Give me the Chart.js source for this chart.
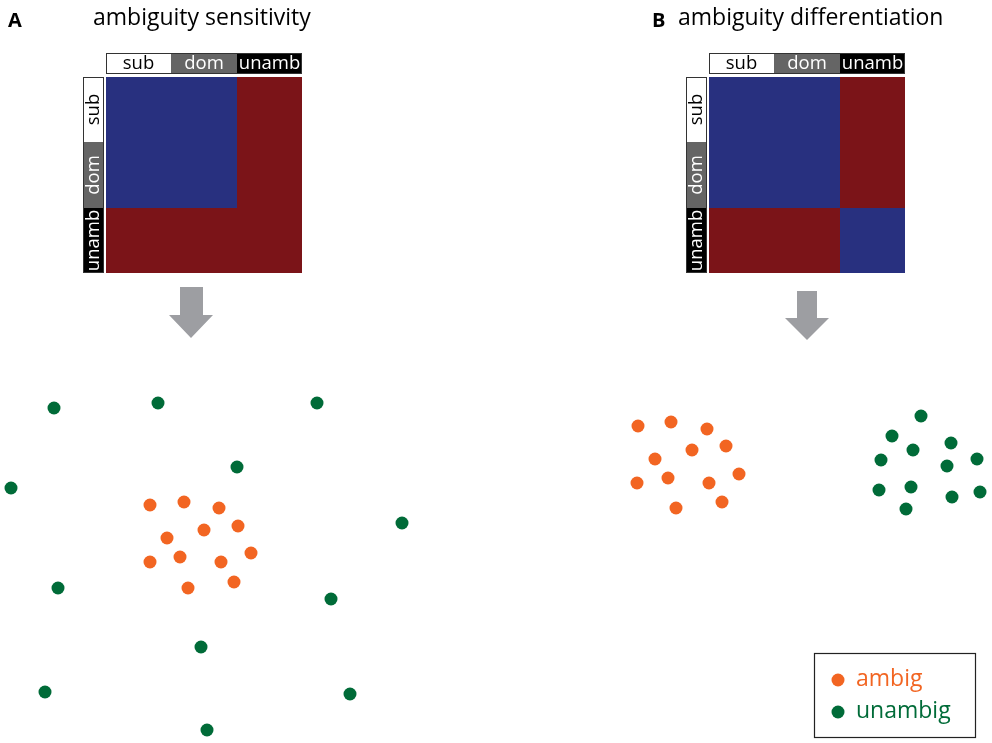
<!DOCTYPE html>
<html>
<head>
<meta charset="utf-8">
<script src="https://cdn.jsdelivr.net/npm/chart.js@4"></script>
<style>
html,body{margin:0;padding:0;background:#fff;}
#wrap{width:992px;height:743px;}
</style>
</head>
<body>
<div id="wrap"><canvas id="c" width="992" height="743"></canvas></div>
<script>
// ---- data ----
const categories = ['sub', 'dom', 'unamb'];
const panelTitles = ['ambiguity sensitivity', 'ambiguity differentiation'];
const panelLetters = ['A', 'B'];
// similarity matrices: 1 = similar (blue), 0 = dissimilar (red)
const matrixA = [[1,1,0],[1,1,0],[0,0,0]];
const matrixB = [[1,1,0],[1,1,0],[0,0,1]];
const seriesNames = ['ambig', 'unambig'];

// scatter points (plot units)
const aAmbigX = [150,184,219,238,204,167,251,180,150,221,234,188];
const aAmbigY = [505,502,508,526,530,538,553,557,562,562,582,588];
const aUnambX = [54,158,317,237,11,402,58,331,201,45,350,207];
const aUnambY = [408,403,403,467,488,523,588,599,647,692,694,730];
const bAmbigX = [638,671,707,726,692,655,739,668,637,709,722,676];
const bAmbigY = [426,422,429,446,450,459,474,478,483,483,502,508];
const bUnambX = [921,892,951,913,881,977,947,879,911,952,980,906];
const bUnambY = [416,436,443,450,460,459,466,490,487,497,492,509];

const zip = (xs, ys) => xs.map((x, i) => ({x, y: ys[i]}));

// ---- styles ----
const ORANGE = '#f26522';
const GREEN = '#006b38';
const BLUE = '#28307f';
const RED = '#7b1418';
const GRAY = '#656565';
const ARROW = '#9d9ea2';
const FONT = '"Open Sans", "DejaVu Sans", sans-serif';

// layout (plot units)
const panels = [
  {m: matrixA, mx: 106, my: 77, size: 196, lx: 83, hy: 53, bw: 21, letterX: 8, titleX: 93, arrowX: 191, arrowTop: 287, shaftW: 23, headW: 44, headTop: 315, tip: 338},
  {m: matrixB, mx: 709, my: 77, size: 196, lx: 686, hy: 53, bw: 21, letterX: 652, titleX: 678, arrowX: 807, arrowTop: 291, shaftW: 20, headW: 44, headTop: 318, tip: 340}
];

const decor = {
  id: 'decor',
  afterDatasetsDraw(chart) {
    const ctx = chart.ctx;
    const sx = chart.scales.x, sy = chart.scales.y;
    const X = v => Math.round(sx.getPixelForValue(v));
    const Y = v => Math.round(sy.getPixelForValue(v));
    const catBg = [ '#ffffff', GRAY, '#000000' ];
    const catFg = [ '#000000', '#ffffff', '#ffffff' ];
    ctx.save();
    panels.forEach((p, pi) => {
      // letter + title
      ctx.fillStyle = '#000';
      ctx.textBaseline = 'alphabetic';
      ctx.textAlign = 'left';
      ctx.font = 'bold 20px ' + FONT;
      ctx.fillText(panelLetters[pi], X(p.letterX), Y(27));
      ctx.font = '23px ' + FONT;
      ctx.fillText(panelTitles[pi], X(p.titleX), Y(25));
      // matrix cells
      const n = categories.length;
      const cs = p.size / n;
      for (let r = 0; r < n; r++) {
        for (let c = 0; c < n; c++) {
          ctx.fillStyle = p.m[r][c] ? BLUE : RED;
          const x0 = X(p.mx + c * cs), x1 = X(p.mx + (c + 1) * cs);
          const y0 = Y(p.my + r * cs), y1 = Y(p.my + (r + 1) * cs);
          ctx.fillRect(x0, y0, x1 - x0, y1 - y0);
        }
      }
      // header bar (top)
      ctx.font = '18.5px ' + FONT;
      for (let c = 0; c < n; c++) {
        const x0 = X(p.mx + c * cs), x1 = X(p.mx + (c + 1) * cs);
        const y0 = Y(p.hy), y1 = Y(p.hy + p.bw);
        ctx.fillStyle = catBg[c];
        ctx.fillRect(x0, y0, x1 - x0, y1 - y0);
        ctx.fillStyle = catFg[c];
        ctx.textAlign = 'center';
        ctx.textBaseline = 'middle';
        ctx.fillText(categories[c], (x0 + x1) / 2, (y0 + y1) / 2 + 0.5);
      }
      ctx.strokeStyle = '#333';
      ctx.lineWidth = 1;
      ctx.strokeRect(X(p.mx) + 0.5, Y(p.hy) + 0.5, X(p.mx + p.size) - X(p.mx) - 1, Y(p.hy + p.bw) - Y(p.hy) - 1);
      // side bar (left), rotated text
      for (let r = 0; r < n; r++) {
        const y0 = Y(p.my + r * cs), y1 = Y(p.my + (r + 1) * cs);
        const x0 = X(p.lx), x1 = X(p.lx + p.bw);
        ctx.fillStyle = catBg[r];
        ctx.fillRect(x0, y0, x1 - x0, y1 - y0);
        ctx.save();
        ctx.translate((x0 + x1) / 2 + 0.5, (y0 + y1) / 2);
        ctx.rotate(-Math.PI / 2);
        ctx.fillStyle = catFg[r];
        ctx.textAlign = 'center';
        ctx.textBaseline = 'middle';
        ctx.fillText(categories[r], 0, 0);
        ctx.restore();
      }
      ctx.strokeStyle = '#333';
      ctx.strokeRect(X(p.lx) + 0.5, Y(p.my) + 0.5, X(p.lx + p.bw) - X(p.lx) - 1, Y(p.my + p.size) - Y(p.my) - 1);
      // arrow
      ctx.fillStyle = ARROW;
      ctx.beginPath();
      ctx.moveTo(X(p.arrowX - p.shaftW / 2), Y(p.arrowTop));
      ctx.lineTo(X(p.arrowX + p.shaftW / 2), Y(p.arrowTop));
      ctx.lineTo(X(p.arrowX + p.shaftW / 2), Y(p.headTop));
      ctx.lineTo(X(p.arrowX + p.headW / 2), Y(p.headTop));
      ctx.lineTo(X(p.arrowX), Y(p.tip));
      ctx.lineTo(X(p.arrowX - p.headW / 2), Y(p.headTop));
      ctx.lineTo(X(p.arrowX - p.shaftW / 2), Y(p.headTop));
      ctx.closePath();
      ctx.fill();
    });
    // legend box
    const lx0 = X(814), ly0 = Y(653), lx1 = X(975), ly1 = Y(737);
    ctx.strokeStyle = '#222';
    ctx.lineWidth = 1.2;
    ctx.strokeRect(lx0 + 0.5, ly0 + 0.5, lx1 - lx0, ly1 - ly0);
    const legendColors = [ORANGE, GREEN];
    const legendY = [680, 712];
    ctx.font = '23px ' + FONT;
    ctx.textAlign = 'left';
    ctx.textBaseline = 'middle';
    seriesNames.forEach((name, i) => {
      ctx.fillStyle = legendColors[i];
      ctx.beginPath();
      ctx.arc(X(838), Y(legendY[i]), 6.5, 0, Math.PI * 2);
      ctx.fill();
      ctx.fillText(name, X(856), Y(legendY[i]) - 1);
    });
    ctx.restore();
  }
};

const ptStyle = color => ({
  backgroundColor: color, borderColor: color, borderWidth: 0,
  pointRadius: 6.5, pointHoverRadius: 6.5, showLine: false
});

new Chart(document.getElementById('c'), {
  type: 'scatter',
  data: {
    datasets: [
      {label: seriesNames[0] + ' A', data: zip(aAmbigX, aAmbigY), ...ptStyle(ORANGE)},
      {label: seriesNames[1] + ' A', data: zip(aUnambX, aUnambY), ...ptStyle(GREEN)},
      {label: seriesNames[0] + ' B', data: zip(bAmbigX, bAmbigY), ...ptStyle(ORANGE)},
      {label: seriesNames[1] + ' B', data: zip(bUnambX, bUnambY), ...ptStyle(GREEN)}
    ]
  },
  options: {
    responsive: false,
    animation: false,
    devicePixelRatio: 1,
    layout: {padding: 0, autoPadding: false},
    plugins: {legend: {display: false}, tooltip: {enabled: false}, title: {display: false}},
    scales: {
      x: {type: 'linear', min: 0, max: 992, display: false},
      y: {type: 'linear', min: 0, max: 743, reverse: true, display: false}
    }
  },
  plugins: [decor]
});
</script>
</body>
</html>
